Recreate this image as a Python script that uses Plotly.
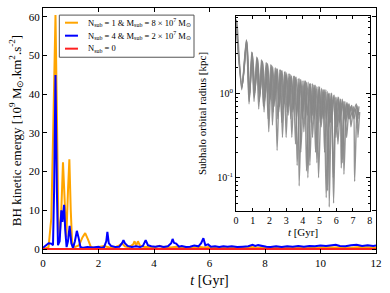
import plotly.graph_objects as go

# ---------------- main panel data ----------------
t_orange = [0.0, 0.1, 0.2, 0.3, 0.38, 0.45, 0.5, 0.55, 0.6, 0.66, 0.72, 0.78, 0.84, 0.9, 0.95, 1.0, 1.05,
            1.15, 1.3, 1.42, 1.52, 1.62, 1.72, 1.85, 2.0, 2.2, 2.4, 2.6, 2.75, 2.85, 2.95, 3.1, 3.25, 3.3,
            3.36, 3.42, 3.5, 3.65, 3.8, 4.0, 4.2, 4.3, 4.45, 4.6, 4.8, 5.0, 5.2, 5.4, 5.6, 5.8, 6.0, 6.3,
            6.6, 6.9, 7.2, 7.5, 7.8, 8.1, 8.4, 8.7, 9.0, 9.3, 9.6, 9.9, 10.2, 10.5, 10.8, 11.1, 11.4, 11.7, 12.0]
v_orange = [0.2, 0.2, 0.5, 8.0, 35.0, 60.5, 35.0, 8.0, 3.0, 10.0, 22.4, 10.0, 3.0, 15.0, 23.2, 10.0, 1.5,
            0.5, 1.0, 3.0, 4.1, 2.5, 0.6, 0.3, 0.6, 0.8, 0.4, 0.5, 0.9, 1.5, 0.7, 0.4, 1.2, 2.0,
            0.9, 2.0, 0.8, 0.5, 0.6, 0.4, 0.8, 0.5, 0.6, 0.4, 0.6, 0.4, 0.5, 0.3, 0.6, 0.4, 0.5, 0.4,
            0.5, 0.3, 0.4, 0.5, 0.3, 0.4, 0.5, 0.3, 0.4, 0.5, 0.4, 0.3, 0.5, 0.4, 0.5, 0.3, 0.5, 0.4, 0.4]

t_blue = [0.0, 0.1, 0.2, 0.3, 0.36, 0.4, 0.45, 0.5, 0.54, 0.6, 0.66, 0.7, 0.76, 0.8, 0.85, 0.9, 0.96, 1.02,
          1.08, 1.15, 1.22, 1.28, 1.35, 1.45, 1.6, 1.8, 2.0, 2.1, 2.2, 2.28, 2.32, 2.37, 2.45, 2.6, 2.75,
          2.85, 2.9, 2.95, 3.05, 3.2, 3.35, 3.5, 3.6, 3.7, 3.78, 3.9, 4.05, 4.2, 4.35, 4.5, 4.62, 4.67,
          4.72, 4.8, 4.9, 5.0, 5.15, 5.3, 5.45, 5.6, 5.7, 5.78, 5.85, 5.95, 6.05, 6.2, 6.35, 6.5, 6.65,
          6.8, 7.0, 7.2, 7.4, 7.55, 7.65, 7.75, 7.9, 8.05, 8.2, 8.4, 8.6, 8.8, 9.0, 9.2, 9.4, 9.6, 9.8,
          10.0, 10.2, 10.4, 10.55, 10.7, 10.9, 11.1, 11.3, 11.5, 11.7, 11.9, 12.0]
v_blue = [0.3, 0.8, 1.5, 1.4, 1.0, 15.0, 45.0, 15.0, 1.0, 2.0, 10.0, 7.0, 11.4, 5.0, 0.5, 2.0, 6.0, 1.5,
          0.3, 2.0, 4.7, 3.0, 0.5, 0.3, 0.5, 0.4, 0.6, 0.3, 0.5, 2.0, 4.4, 1.5, 0.8, 0.5, 0.6,
          1.5, 2.3, 1.5, 0.8, 0.5, 0.7, 0.5, 0.8, 2.3, 1.0, 0.7, 0.6, 0.8, 0.5, 0.7, 1.5, 2.6,
          1.6, 1.4, 0.6, 0.8, 0.5, 0.6, 0.9, 0.7, 1.5, 2.8, 1.0, 1.2, 0.6, 0.7, 0.5, 0.7, 0.6,
          0.7, 0.5, 0.6, 0.7, 1.1, 0.8, 1.0, 0.7, 0.6, 0.5, 0.7, 0.5, 0.7, 0.6, 0.8, 0.6, 0.8, 0.7,
          0.9, 0.8, 1.0, 1.1, 0.8, 0.7, 1.0, 1.1, 0.8, 1.0, 0.8, 0.9]

t_red = [0.0, 12.0]
v_red = [0.0, 0.0]

names = [
    "N<sub>sub</sub> = 1 &amp; M<sub>sub</sub> = 8 × 10<sup>7</sup> M<sub>⊙</sub>",
    "N<sub>sub</sub> = 4 &amp; M<sub>sub</sub> = 2 × 10<sup>7</sup> M<sub>⊙</sub>",
    "N<sub>sub</sub> = 0",
]
colors = ["#FFA500", "#0000FF", "#FF2020"]

# ---------------- inset data (subhalo orbital radii) ----------------
t_sub1 = [0.00, 0.05, 0.34, 0.62, 0.78, 0.94, 1.08, 1.24, 1.36, 1.52, 1.64, 1.80, 1.92, 2.08, 2.18, 2.34,
          2.46, 2.62, 2.74, 2.90, 3.00, 3.16, 3.28, 3.44, 3.56, 3.72, 3.78, 3.96, 4.06, 4.22, 4.30, 4.48,
          4.58, 4.74, 4.84, 5.00, 5.10, 5.26, 5.40, 5.54, 5.58, 5.72, 5.84, 5.98, 6.10, 6.26, 6.36, 6.52,
          6.62, 6.78, 6.88, 7.04, 7.10, 7.24, 7.30, 7.40]
r_sub1 = [7.5, 7.0, 1.1, 4.3, 0.75, 3.1, 0.8, 2.7, 0.65, 2.5, 0.7, 2.3, 0.5, 2.2, 0.42, 2.0,
          0.21, 1.9, 0.45, 1.8, 0.3, 1.7, 0.5, 1.6, 0.25, 1.5, 0.08, 1.4, 0.35, 1.35, 0.1, 1.3,
          0.3, 1.25, 0.15, 1.2, 0.4, 1.1, 0.058, 1.0, 0.045, 1.0, 0.05, 0.9, 0.25, 0.85, 0.15, 0.8,
          0.3, 0.75, 0.4, 0.7, 0.09, 0.72, 0.3, 0.6]

t_sub2 = [0.00, 0.36, 0.64, 0.80, 0.97, 1.12, 1.28, 1.42, 1.58, 1.72, 1.88, 2.00, 2.16, 2.28, 2.44, 2.56,
          2.72, 2.84, 3.00, 3.12, 3.28, 3.40, 3.56, 3.66, 3.84, 3.96, 4.12, 4.22, 4.40, 4.50, 4.66, 4.76,
          4.92, 5.04, 5.20, 5.30, 5.46, 5.56, 5.72, 5.82, 5.98, 6.08, 6.24, 6.30, 6.46, 6.56, 6.72, 6.80,
          6.96, 7.06, 7.22, 7.36]
r_sub2 = [7.3, 1.2, 4.2, 0.9, 3.0, 1.0, 2.6, 0.9, 2.4, 0.8, 2.25, 0.75, 2.1, 0.7, 1.95, 0.6,
          1.85, 0.65, 1.75, 0.55, 1.65, 0.6, 1.55, 0.14, 1.45, 0.5, 1.4, 0.12, 1.3, 0.45, 1.25, 0.2,
          1.2, 0.45, 1.1, 0.2, 1.05, 0.4, 1.0, 0.1, 0.9, 0.4, 0.85, 0.13, 0.8, 0.45, 0.75, 0.5,
          0.6, 0.5, 0.7, 0.55]

t_sub3 = [0.00, 0.35, 0.63, 0.79, 0.96, 1.10, 1.26, 1.40, 1.55, 1.68, 1.84, 1.96, 2.12, 2.22, 2.38, 2.50,
          2.66, 2.78, 2.94, 3.06, 3.22, 3.34, 3.50, 3.62, 3.78, 3.88, 4.06, 4.16, 4.32, 4.42, 4.58, 4.68,
          4.84, 4.94, 5.12, 5.22, 5.38, 5.48, 5.62, 5.72, 5.88, 5.98, 6.14, 6.24, 6.40, 6.46, 6.62, 6.72,
          6.88, 6.98, 7.14, 7.24, 7.36]
r_sub3 = [7.4, 1.15, 4.25, 0.8, 3.05, 0.9, 2.65, 0.8, 2.45, 0.6, 2.3, 0.35, 2.15, 0.6, 2.0, 0.5,
          1.9, 0.3, 1.8, 0.6, 1.7, 0.3, 1.6, 0.5, 1.5, 0.2, 1.4, 0.5, 1.35, 0.14, 1.3, 0.5,
          1.2, 0.1, 1.15, 0.5, 1.1, 0.07, 1.0, 0.5, 0.95, 0.3, 0.9, 0.5, 0.8, 0.11, 0.75, 0.5,
          0.7, 0.55, 0.65, 0.45, 0.7]

t_sub4 = [0.00, 0.37, 0.65, 0.82, 0.98, 1.14, 1.30, 1.44, 1.60, 1.74, 1.90, 2.04, 2.20, 2.32, 2.48, 2.60,
          2.76, 2.88, 3.04, 3.16, 3.32, 3.44, 3.60, 3.72, 3.88, 4.00, 4.16, 4.28, 4.44, 4.56, 4.72, 4.84,
          5.00, 5.12, 5.28, 5.40, 5.56, 5.66, 5.82, 5.94, 6.10, 6.20, 6.36, 6.48, 6.64, 6.76, 6.92, 7.02,
          7.20, 7.30]
r_sub4 = [7.2, 1.25, 4.1, 1.0, 2.95, 1.1, 2.55, 1.0, 2.35, 0.9, 2.2, 0.85, 2.05, 0.8, 1.95, 0.7,
          1.85, 0.75, 1.7, 0.7, 1.6, 0.65, 1.55, 0.6, 1.45, 0.6, 1.4, 0.55, 1.3, 0.55, 1.25, 0.5,
          1.15, 0.5, 1.1, 0.5, 1.0, 0.45, 0.95, 0.45, 0.9, 0.45, 0.85, 0.5, 0.78, 0.55, 0.72, 0.6,
          0.75, 0.5]

FONT = "Liberation Serif"

fig = go.Figure()
fig.add_trace(go.Scatter(x=t_orange, y=v_orange, mode="lines", name=names[0],
                         line=dict(color=colors[0], width=2)))
fig.add_trace(go.Scatter(x=t_blue, y=v_blue, mode="lines", name=names[1],
                         line=dict(color=colors[1], width=2)))
fig.add_trace(go.Scatter(x=t_red, y=v_red, mode="lines", name=names[2],
                         line=dict(color=colors[2], width=2)))

for tt, rr in [(t_sub4, r_sub4), (t_sub3, r_sub3), (t_sub2, r_sub2), (t_sub1, r_sub1)]:
    fig.add_trace(go.Scatter(x=tt, y=rr, mode="lines", showlegend=False,
                             line=dict(color="rgba(135,135,135,0.9)", width=1.4,
                                       shape="spline", smoothing=0.7),
                             xaxis="x2", yaxis="y2"))

# compact matplotlib-style legend box (drawn in paper coordinates)
fig.add_shape(type="rect", xref="paper", yref="paper", x0=0.049, x1=0.4535, y0=0.799, y1=0.971,
              line=dict(color="#555555", width=1), fillcolor="white", layer="above")
row_y = [0.940, 0.887, 0.834]
for name, col, yy in zip(names, colors, row_y):
    fig.add_shape(type="line", xref="paper", yref="paper", x0=0.066, x1=0.105, y0=yy, y1=yy,
                  line=dict(color=col, width=2), layer="above")
    fig.add_annotation(xref="paper", yref="paper", x=0.129, y=yy, text=name, showarrow=False,
                       xanchor="left", yanchor="middle", font=dict(family=FONT, size=8.5, color="black"))

axis_common = dict(showgrid=False, zeroline=False, showline=True, linecolor="black", linewidth=1,
                   mirror="ticks", ticks="inside", tickcolor="black", ticklen=4, tickwidth=1)

minor_vals = [0.05, 0.06, 0.07, 0.08, 0.09, 0.2, 0.3, 0.4, 0.5, 0.6, 0.7, 0.8, 0.9,
              2, 3, 4, 5, 6, 7, 8]

fig.update_layout(
    width=390, height=293,
    margin=dict(l=43, r=14, t=8, b=40),
    paper_bgcolor="white", plot_bgcolor="white",
    font=dict(family=FONT, size=11, color="black"),
    showlegend=False,
    xaxis=dict(axis_common, range=[0, 12], tickvals=[0, 2, 4, 6, 8, 10, 12],
               title=dict(text="<i>t</i> [Gyr]", font=dict(size=14), standoff=6),
               tickfont=dict(size=11)),
    yaxis=dict(axis_common, range=[-1.03, 62.3], tickvals=[0, 10, 20, 30, 40, 50, 60],
               title=dict(text="BH kinetic emergy [10<sup>9</sup> M<sub>⊙</sub>.km<sup>2</sup>.s<sup>-2</sup>]",
                          font=dict(size=13), standoff=4),
               tickfont=dict(size=11)),
    xaxis2=dict(axis_common, domain=[0.5796, 0.982], anchor="y2", range=[0, 8.02],
                tickvals=[0, 1, 2, 3, 4, 5, 6, 7, 8], ticklen=3,
                title=dict(text="<i>t</i> [Gyr]", font=dict(size=11), standoff=2),
                tickfont=dict(size=10)),
    yaxis2=dict(axis_common, domain=[0.1714, 0.9673], anchor="x2", type="log",
                range=[-1.395, 0.916], tickvals=[0.1, 1], ticktext=["10<sup>-1</sup>", "10<sup>0</sup>"],
                ticklen=4,
                minor=dict(tickmode="array", tickvals=minor_vals, ticks="inside", ticklen=2,
                           tickcolor="black", showgrid=False),
                title=dict(text="Subhalo orbital radius [kpc]", font=dict(size=11), standoff=8),
                tickfont=dict(size=10)),
)

fig.write_html("out.html", config={"displayModeBar": False},
               post_script="document.body.style.margin='0';")
